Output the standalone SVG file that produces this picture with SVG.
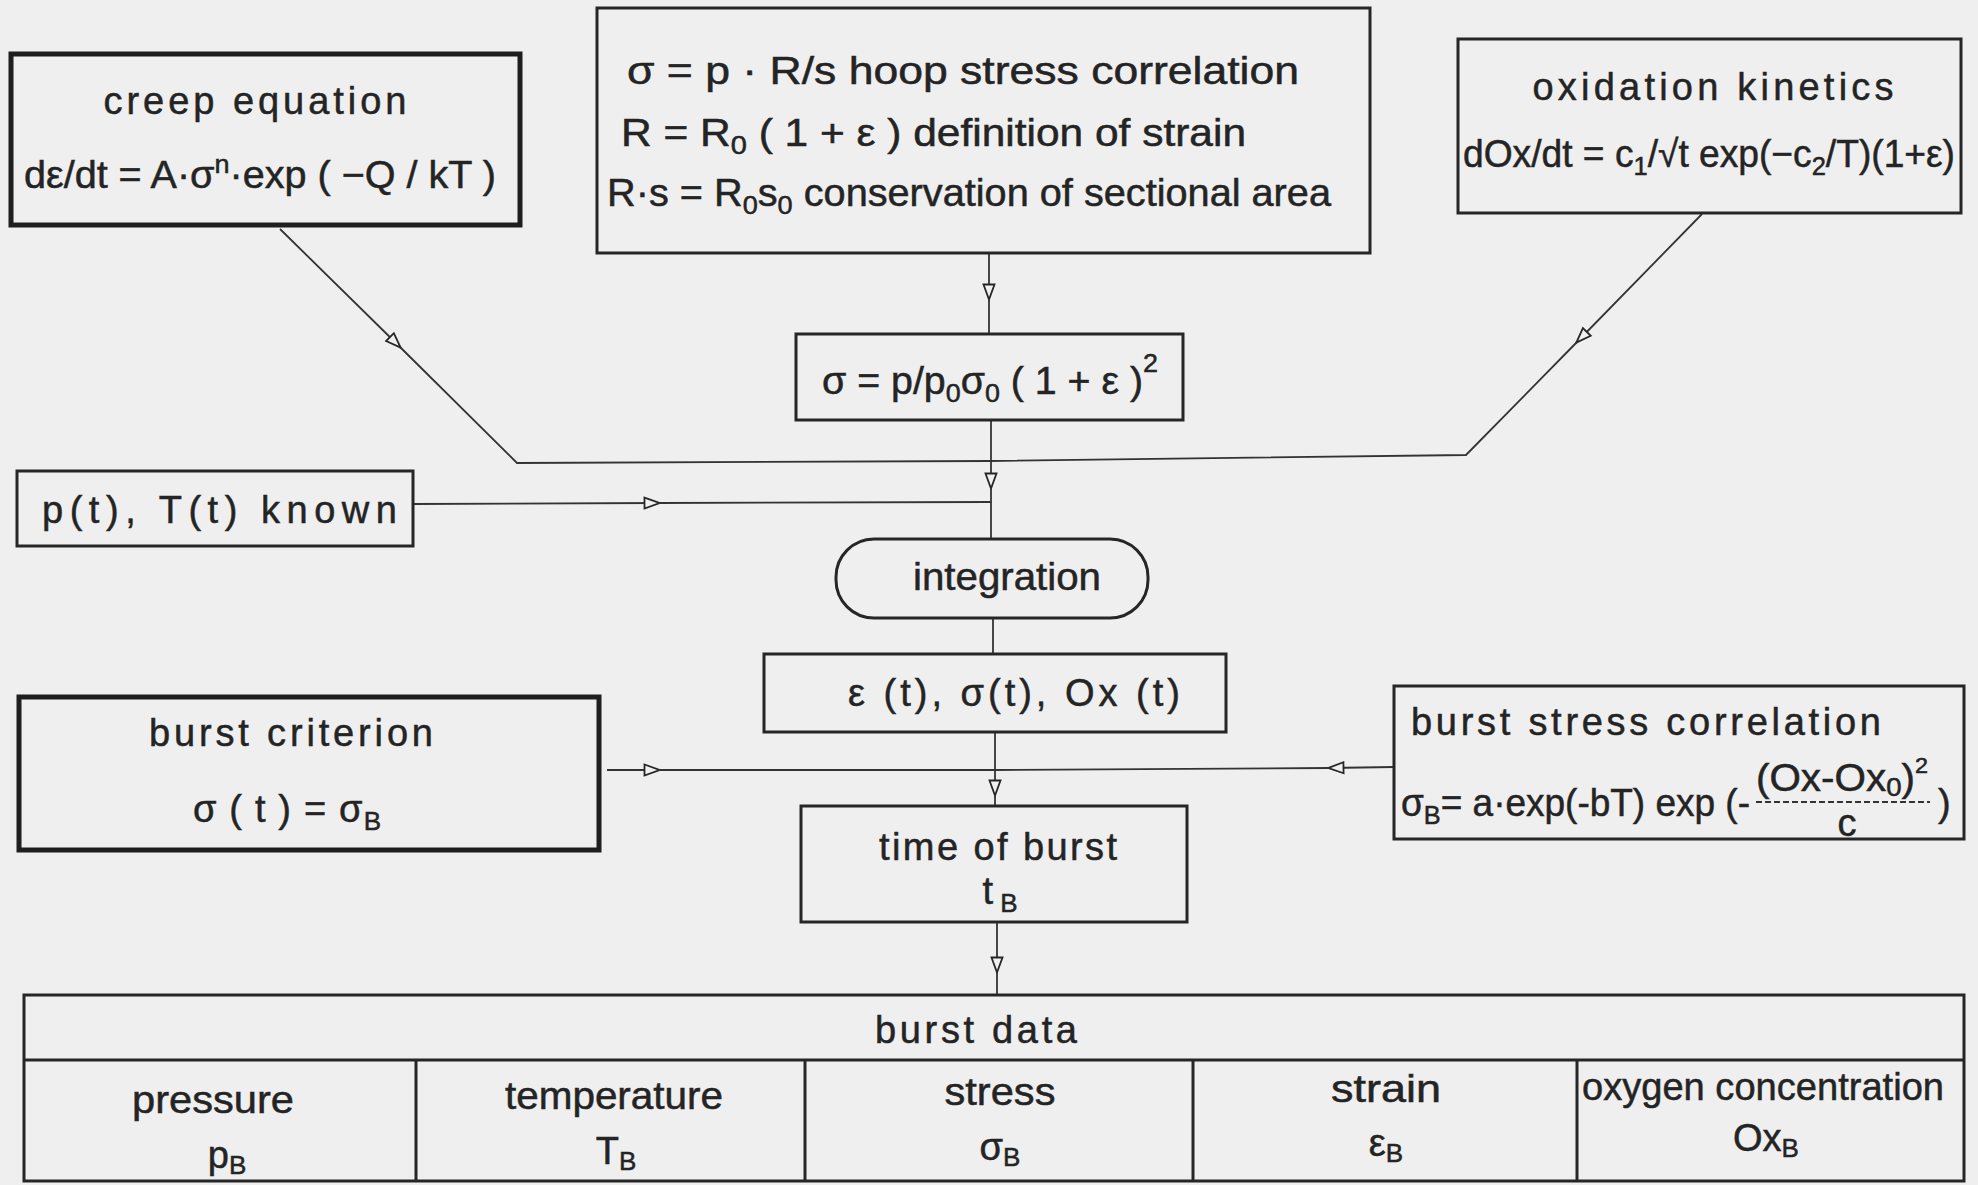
<svg xmlns="http://www.w3.org/2000/svg" width="1978" height="1185" viewBox="0 0 1978 1185">
<defs>
<style>
text{font-family:"Liberation Sans",Arial,sans-serif;fill:#242424;stroke:#242424;stroke-width:0.5;font-size:38px}
.box{fill:none;stroke:#262626;stroke-width:3}
.thick{fill:none;stroke:#1e1e1e;stroke-width:5}
.con{fill:none;stroke:#333;stroke-width:1.8}
.sub{font-size:26px}
.mid{text-anchor:middle}
</style>
<marker id="tri" viewBox="0 0 18 14" refX="17" refY="7" markerWidth="18" markerHeight="14" orient="auto" markerUnits="userSpaceOnUse">
<path d="M1.5,1.5 L16.5,7 L1.5,12.5 Z" fill="#f0f0f0" stroke="#262626" stroke-width="1.8"/>
</marker>
</defs>
<rect width="1978" height="1185" fill="#efefef"/>

<g id="connectors">
<path class="con" d="M280,229 L401,348" marker-end="url(#tri)"/>
<path class="con" d="M400,347 L517,463 L990,461"/>
<path class="con" d="M1702,214 L1576,343" marker-end="url(#tri)"/>
<path class="con" d="M1577,342 L1466,455 L990,461"/>
<path class="con" d="M989,253 L989,300" marker-end="url(#tri)"/>
<path class="con" d="M989,299 L989,334"/>
<path class="con" d="M991,420 L991,489" marker-end="url(#tri)"/>
<path class="con" d="M991,488 L991,539"/>
<path class="con" d="M414,504 L660,503" marker-end="url(#tri)"/>
<path class="con" d="M659,503 L991,502"/>
<path class="con" d="M993,618 L993,653"/>
<path class="con" d="M995,732 L995,796" marker-end="url(#tri)"/>
<path class="con" d="M995,795 L995,806"/>
<path class="con" d="M607,770 L660,770" marker-end="url(#tri)"/>
<path class="con" d="M659,770 L995,770"/>
<path class="con" d="M1394,767 L1328,768" marker-end="url(#tri)"/>
<path class="con" d="M1329,768 L995,770"/>
<path class="con" d="M997,923 L997,973" marker-end="url(#tri)"/>
<path class="con" d="M997,972 L997,995"/>
</g>

<g id="creep">
<rect class="thick" x="11" y="54" width="509" height="171"/>
<text class="mid" x="255" y="114" font-size="35" textLength="303" lengthAdjust="spacing">creep equation</text>
<text x="24" y="188" font-size="41" textLength="472" lengthAdjust="spacingAndGlyphs">dε/dt = A·σ<tspan class="sub" font-size="28" dy="-15">n</tspan><tspan dy="15">·exp ( −Q / kT )</tspan></text>
</g>

<g id="hoop">
<rect class="box" x="597" y="8" width="773" height="245"/>
<text x="627" y="84" font-size="39" textLength="672" lengthAdjust="spacingAndGlyphs">σ = p · R/s  hoop stress correlation</text>
<text x="621" y="146" font-size="39" textLength="625" lengthAdjust="spacingAndGlyphs">R = R<tspan class="sub" dy="8">0</tspan><tspan dy="-8"> ( 1 + ε ) definition of strain</tspan></text>
<text x="607" y="206" font-size="39" textLength="724" lengthAdjust="spacingAndGlyphs">R·s = R<tspan class="sub" dy="8">0</tspan><tspan dy="-8">s</tspan><tspan class="sub" dy="8">0</tspan><tspan dy="-8"> conservation of sectional area</tspan></text>
</g>

<g id="oxidation">
<rect class="box" x="1458" y="39" width="503" height="174"/>
<text class="mid" x="1713" y="100" font-size="37" textLength="361" lengthAdjust="spacing">oxidation kinetics</text>
<text x="1463" y="167" font-size="38" textLength="492" lengthAdjust="spacingAndGlyphs">dOx/dt = c<tspan class="sub" dy="8">1</tspan><tspan dy="-8">/√t  exp(−c</tspan><tspan class="sub" dy="8">2</tspan><tspan dy="-8">/T)(1+ε)</tspan></text>
</g>

<g id="stress">
<rect class="box" x="796" y="334" width="387" height="86"/>
<text x="822" y="394" font-size="41" textLength="336" lengthAdjust="spacingAndGlyphs">σ = p/p<tspan class="sub" font-size="28" dy="8">0</tspan><tspan dy="-8">σ</tspan><tspan class="sub" font-size="28" dy="8">0</tspan><tspan dy="-8"> ( 1 + ε )</tspan><tspan class="sub" font-size="28" dy="-22">2</tspan></text>
</g>

<g id="pt">
<rect class="box" x="17" y="471" width="396" height="75"/>
<text x="42" y="523" font-size="44" textLength="355" lengthAdjust="spacing">p(t), T(t)  known</text>
</g>

<g id="integration">
<rect class="box" x="836" y="539" width="312" height="79" rx="38" ry="38"/>
<text class="mid" x="1007" y="590" font-size="40" textLength="188" lengthAdjust="spacingAndGlyphs">integration</text>
</g>

<g id="results">
<rect class="box" x="764" y="654" width="462" height="78"/>
<text x="848" y="706" font-size="40" textLength="332" lengthAdjust="spacing">ε (t), σ(t), Ox (t)</text>
</g>

<g id="criterion">
<rect class="thick" x="19" y="697" width="580" height="153"/>
<text class="mid" x="291" y="746" font-size="38" textLength="284" lengthAdjust="spacing">burst criterion</text>
<text class="mid" x="287" y="822" font-size="39" textLength="188" lengthAdjust="spacing">σ ( t ) = σ<tspan class="sub" dy="8">B</tspan></text>
</g>

<g id="burststress">
<rect class="box" x="1394" y="686" width="570" height="153"/>
<text x="1411" y="735" font-size="38" textLength="470" lengthAdjust="spacing">burst stress correlation</text>
<text x="1401" y="816" font-size="38" textLength="349" lengthAdjust="spacingAndGlyphs">σ<tspan class="sub" dy="8">B</tspan><tspan dy="-8">= a·exp(-bT) exp (-</tspan></text>
<text x="1756" y="791" font-size="35" textLength="172" lengthAdjust="spacingAndGlyphs">(Ox-Ox<tspan class="sub" font-size="22" dy="5">0</tspan><tspan dy="-5">)</tspan><tspan font-size="22" dy="-18">2</tspan></text>
<line x1="1756" y1="802" x2="1930" y2="802" stroke="#333" stroke-width="2" stroke-dasharray="6 3"/>
<text class="mid" x="1847" y="836" font-size="34">c</text>
<text x="1938" y="816" font-size="38">)</text>
</g>

<g id="timeburst">
<rect class="box" x="801" y="806" width="386" height="116"/>
<text class="mid" x="998" y="860" font-size="38" textLength="238" lengthAdjust="spacing">time of burst</text>
<text class="mid" x="1000" y="904" font-size="38">t<tspan class="sub" dy="8"> B</tspan></text>
</g>

<g id="burstdata">
<rect class="box" x="24" y="995" width="1940" height="186"/>
<line class="box" x1="24" y1="1060" x2="1964" y2="1060"/>
<line class="box" x1="416" y1="1060" x2="416" y2="1181"/>
<line class="box" x1="805" y1="1060" x2="805" y2="1181"/>
<line class="box" x1="1193" y1="1060" x2="1193" y2="1181"/>
<line class="box" x1="1577" y1="1060" x2="1577" y2="1181"/>
<text class="mid" x="976" y="1043" font-size="39" textLength="202" lengthAdjust="spacing">burst data</text>
<text class="mid" x="213" y="1113" font-size="40" textLength="162" lengthAdjust="spacingAndGlyphs">pressure</text>
<text class="mid" x="227" y="1168" font-size="40">p<tspan class="sub" dy="6">B</tspan></text>
<text class="mid" x="614" y="1109" font-size="40" textLength="218" lengthAdjust="spacingAndGlyphs">temperature</text>
<text class="mid" x="616" y="1164" font-size="40">T<tspan class="sub" dy="6">B</tspan></text>
<text class="mid" x="1000" y="1105" font-size="40" textLength="111" lengthAdjust="spacingAndGlyphs">stress</text>
<text class="mid" x="1000" y="1160" font-size="40">σ<tspan class="sub" dy="6">B</tspan></text>
<text class="mid" x="1386" y="1102" font-size="40" textLength="110" lengthAdjust="spacingAndGlyphs">strain</text>
<text class="mid" x="1386" y="1156" font-size="40">ε<tspan class="sub" dy="6">B</tspan></text>
<text class="mid" x="1763" y="1100" font-size="38" textLength="362" lengthAdjust="spacingAndGlyphs">oxygen concentration</text>
<text class="mid" x="1766" y="1151" font-size="40">Ox<tspan class="sub" dy="6">B</tspan></text>
</g>
</svg>
